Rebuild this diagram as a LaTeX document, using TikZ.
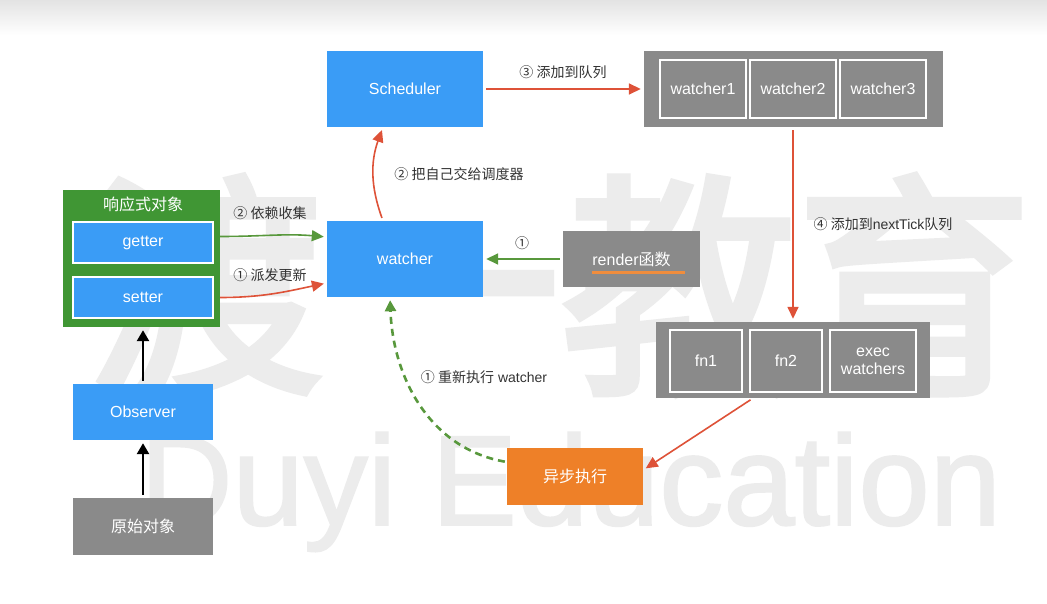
\documentclass[tikz,border=0pt]{standalone}
\usepackage{fontspec}
\setmainfont{Liberation Sans}
\newfontfamily\cjk{Noto Sans CJK SC}
\newfontfamily\wmcjk[FakeBold=3]{Noto Sans CJK SC}
\newfontfamily\wmlat[FakeBold=1.5]{Liberation Sans}
\usetikzlibrary{arrows.meta,calc}
\definecolor{myblue}{RGB}{58,156,246}
\definecolor{mygreen}{RGB}{64,150,52}
\definecolor{mygray}{RGB}{138,138,138}
\definecolor{myorange}{RGB}{238,128,40}
\definecolor{myred}{RGB}{222,82,56}
\definecolor{agreen}{RGB}{88,152,60}
\definecolor{wm}{RGB}{236,236,236}
\newcommand{\boxfs}{\fontsize{16}{19}\selectfont}
\newcommand{\lblfs}{\fontsize{14}{17}\selectfont}
\tikzset{
  bluebox/.style={fill=myblue, text=white, font=\boxfs, inner sep=0pt},
  graybox/.style={fill=mygray, text=white, font=\boxfs, inner sep=0pt},
  inbox/.style={draw=white, line width=1.4pt, text=white, font=\boxfs, inner sep=0pt, align=center},
  redarrow/.style={draw=myred, line width=1.6pt, -{Triangle[length=12pt,width=11pt]}, shorten >=3pt, shorten <=3pt},
  greenarrow/.style={draw=agreen, line width=1.6pt, -{Triangle[length=12pt,width=11pt]}, shorten >=3pt, shorten <=3pt},
  blackarrow/.style={draw=black, line width=2.5pt, -{Triangle[length=11pt,width=12pt]}, shorten >=3pt, shorten <=3pt},
  lbl/.style={font=\lblfs, text=black!80, inner sep=0pt}
}
\begin{document}
\begin{tikzpicture}[x=1pt,y=1pt]
\useasboundingbox (0,0) rectangle (1047,603);
\fill[white] (0,0) rectangle (1047,603);
\shade[top color=black!11, bottom color=white] (0,568) rectangle (1047,603);
% watermark
\node[text=wm, font=\wmcjk\fontsize{236}{236}\selectfont, inner sep=0pt] (wmcn) at (560,318) {渡一教育};
\node[text=wm, font=\wmlat\fontsize{128}{128}\selectfont, inner sep=0pt, anchor=base west] (wmen) at (140,78) {Duyi Education};
% nodes
\node[bluebox, minimum width=156, minimum height=76] (sched) at (405,514) {Scheduler};
\node[bluebox, minimum width=156, minimum height=76] (watcher) at (405,344) {watcher};
\node[graybox, minimum width=299, minimum height=76] (queue) at (793.5,514) {};
\node[inbox, minimum width=86, minimum height=58] (w1) at (703,514) {watcher1};
\node[inbox, minimum width=86, minimum height=58] (w2) at (793,514) {watcher2};
\node[inbox, minimum width=86, minimum height=58] (w3) at (883,514) {watcher3};
\node[graybox, minimum width=137, minimum height=56] (render) at (631.5,344) {render{\cjk 函数}};
\draw[draw=myorange!90, line width=3pt] ($(render.south west)+(29,15)$) coordinate (ul1) -- ($(render.south east)+(-15,15)$) coordinate (ul2);
\node[fill=mygreen, minimum width=157, minimum height=137, inner sep=0pt] (react) at (141.5,344.5) {};
\node[text=white, font=\cjk\boxfs, inner sep=0pt] (title) at (143,399) {响应式对象};
\node[bluebox, draw=white, line width=1.4pt, minimum width=140, minimum height=41] (getter) at (143,360.5) {getter};
\node[bluebox, draw=white, line width=1.4pt, minimum width=140, minimum height=41] (setter) at (143,305.5) {setter};
\node[bluebox, minimum width=140, minimum height=56] (obs) at (143,191) {Observer};
\node[graybox, minimum width=140, minimum height=57, font=\cjk\boxfs] (orig) at (143,76.5) {原始对象};
\node[graybox, minimum width=274, minimum height=76] (fnq) at (793,243) {};
\node[inbox, minimum width=72, minimum height=62] (fn1) at (706,242) {fn1};
\node[inbox, minimum width=72, minimum height=62] (fn2) at (786,242) {fn2};
\node[inbox, minimum width=86, minimum height=62] (exec) at (873,242) {exec\\[-1pt]watchers};
\node[fill=myorange, text=white, font=\cjk\boxfs, minimum width=136, minimum height=57, inner sep=0pt] (async) at (575,126.5) {异步执行};
% connectors
\draw[redarrow] (sched.east) -- (queue.west);
\node[lbl, font=\cjk\lblfs] (l3) at (563,531) {③ 添加到队列};
\draw[redarrow] ($(watcher.north)+(-22,0)$) to[bend left=20] ($(sched.south)+(-22,0)$);
\node[lbl, font=\cjk\lblfs] (l2) at (459,429) {② 把自己交给调度器};
\draw[greenarrow] (render.west) -- (watcher.east);
\node[lbl, font=\cjk\lblfs] (l1) at (522,360) {①};
\draw[greenarrow, shorten <=0pt] ($(react.east |- getter.east)+(0,6)$) to[out=0,in=175] ($(watcher.west)+(0,22)$);
\node[lbl, font=\cjk\lblfs] (lg) at (270,390) {② 依赖收集};
\draw[redarrow, shorten <=0pt] (react.east |- setter.east) to[out=0,in=192] ($(watcher.west)+(0,-24)$);
\node[lbl, font=\cjk\lblfs] (ls) at (270,328) {① 派发更新};
\draw[blackarrow] (obs.north) -- (obs.north |- react.south);
\draw[blackarrow] (orig.north) -- (obs.south);
\draw[redarrow] (fnq.north |- queue.south) -- (fnq.north);
\node[lbl] (l4) at (883,379) {{\cjk ④ 添加到}nextTick{\cjk 队列}};
\draw[redarrow] ($(fnq.south)+(-40,0)$) -- ($(async.east)+(0,6.5)$);
\draw[draw=agreen, line width=2.6pt, dash pattern=on 7pt off 5pt, -{Triangle[length=11pt,width=11pt]}, shorten >=3pt, shorten <=2pt] ($(async.west)+(0,14.5)$) to[out=170,in=-88] ($(watcher.south)+(-15,0)$);
\node[lbl] (lr) at (484,226) {{\cjk ① 重新执行} watcher};
\end{tikzpicture}
\end{document}
